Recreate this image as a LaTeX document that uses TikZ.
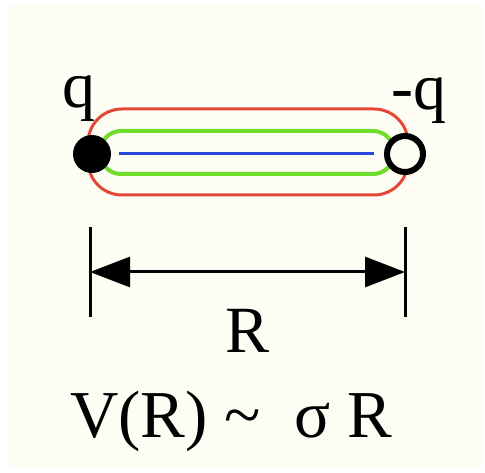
\documentclass[tikz,border=0pt]{standalone}
\usepackage{fontspec}
\setmainfont{Liberation Serif}
\usetikzlibrary{arrows.meta}

\definecolor{paper}{RGB}{253,253,243}
\definecolor{tubered}{RGB}{226,72,54}
\definecolor{tubegreen}{RGB}{110,220,40}
\definecolor{tubeblue}{RGB}{40,70,220}

\begin{document}
\begin{tikzpicture}[x=1pt, y=1pt,
  dim/.style={line width=3pt},
  charge/.style={circle, inner sep=0pt, minimum size=38pt},
  lbl/.style={anchor=base, font=\fontsize{66}{76}\selectfont}]
  % background sheet
  \fill[white] (0,0) rectangle (485,472);
  \fill[paper, rounded corners=4] (9,5) rectangle (483,467);
  \useasboundingbox (0,0) rectangle (485,472);
  % flux tube: outer and inner field lines
  \draw[tubered, line width=3pt, rounded corners=34] (88,277) rectangle (408,363);
  \draw[tubegreen, line width=4pt, rounded corners=21] (100,298) rectangle (394,341);
  % the two charges
  \node[charge, fill=black] (qdot) at (92,318) {};
  \node[charge, draw=black, fill=paper, line width=6pt, minimum size=36pt] (antiq) at (405,318) {};
  % central field line
  \draw[tubeblue, line width=3pt, shorten <=8pt, shorten >=10pt] (qdot) -- (antiq);
  % charge labels
  \node[lbl] (qlabel) at (79,364) {q};
  \node[lbl] (antiqlabel) at (419,362) {-q};
  % separation R
  \coordinate (leftend) at (90,200);
  \coordinate (rightend) at (405,200);
  \draw[dim] ([yshift=45pt]leftend) -- ([yshift=-45pt]leftend);
  \draw[dim] ([yshift=45pt]rightend) -- ([yshift=-45pt]rightend);
  \draw[dim, {Triangle[length=40pt,width=30pt]}-{Triangle[length=40pt,width=30pt]}] (leftend) -- (rightend);
  \node[lbl] (rlabel) at (248,120) {R};
  % linear potential
  \node[lbl, font=\fontsize{67}{77}\selectfont] (vlaw) at (231,35) {V(R) \textasciitilde\ \ σ R};
\end{tikzpicture}
\end{document}
